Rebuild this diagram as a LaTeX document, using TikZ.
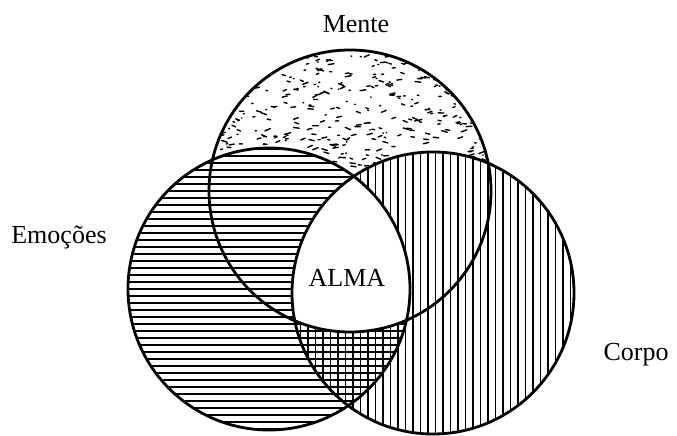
\documentclass[tikz,border=0pt]{standalone}
\usepackage{fontspec}
\setmainfont{Liberation Serif}
\begin{document}
\begin{tikzpicture}[x=1pt,y=-1pt,
  outline/.style={line width=2.8pt},
  hatch/.style={line width=1.9pt},
  speck/.style={line width=1.4pt, line cap=round},
  lab/.style={font=\fontsize{26}{30}\selectfont, anchor=base, inner sep=0pt}]
\useasboundingbox (0,0) rectangle (677,436);
\coordinate (M) at (350,191);
\coordinate (E) at (269,289);
\coordinate (C) at (433,293);
\def\R{141}
% speckle texture of Mente
\begin{scope}
  \clip (M) circle (\R);
  \pgfmathsetseed{12}
  \foreach \i in {1,...,520}{
    \pgfmathsetmacro\px{205+rnd*290}
    \pgfmathsetmacro\py{48+rnd*140}
    \pgfmathsetmacro\pa{rnd*50-25}
    \pgfmathsetmacro\pl{0.5+rnd*5.5}
    \draw[speck] (\px,\py) -- ++(\pa:\pl);
  }
\end{scope}
\fill[white] (E) circle (\R);
\fill[white] (C) circle (\R);
% horizontal hatching of Emocoes
\begin{scope}
  \clip (E) circle (\R);
  \foreach \yy in {149,156,...,432}
    \draw[hatch] (120,\yy) -- (420,\yy);
\end{scope}
% vertical hatching of Corpo
\begin{scope}
  \clip (C) circle (\R);
  \foreach \xx in {293,300.5,...,576}
    \draw[hatch] (\xx,150) -- (\xx,436);
\end{scope}
% ALMA white
\begin{scope}
  \clip (E) circle (\R);
  \clip (C) circle (\R);
  \fill[white] (M) circle (\R);
\end{scope}
\draw[outline] (M) circle (\R);
\draw[outline] (E) circle (\R);
\draw[outline] (C) circle (\R);
\node[lab] (mente) at (356,33) {Mente};
\node[lab] (emo) at (59,243) {Emoções};
\node[lab] (corpo) at (636,360) {Corpo};
\node[lab] (alma) at (347,286) {ALMA};
\end{tikzpicture}
\end{document}
